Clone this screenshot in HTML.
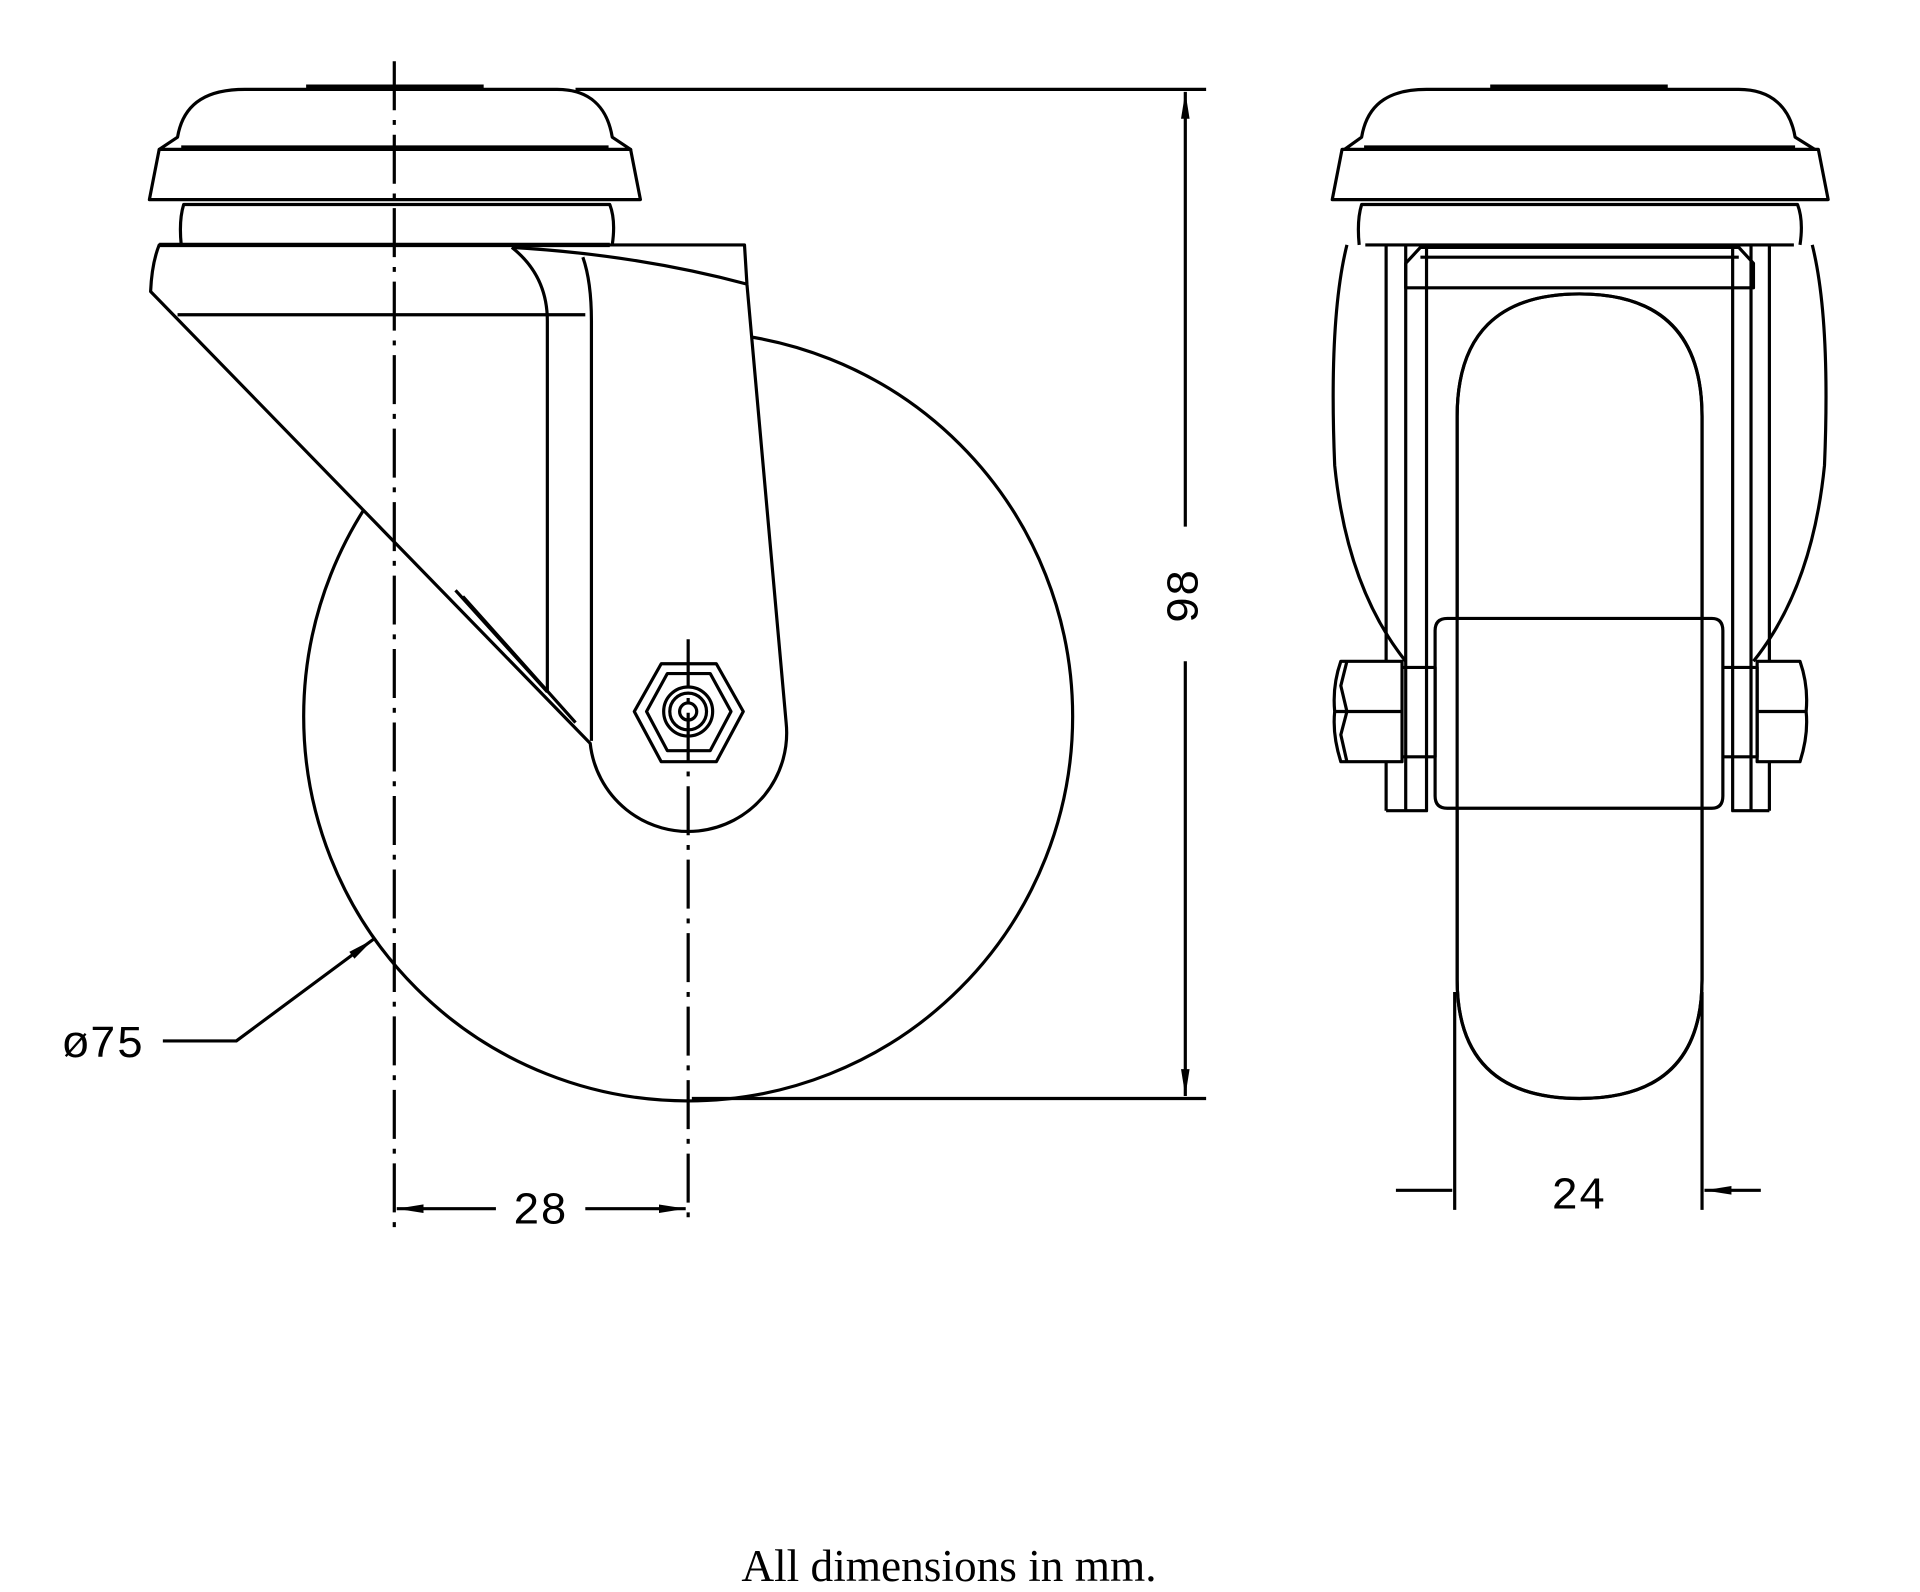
<!DOCTYPE html>
<html><head><meta charset="utf-8"><style>html,body{margin:0;padding:0;background:#fff}svg{display:block}</style></head>
<body>
<svg width="1920" height="1592" viewBox="0 0 1568 1300" preserveAspectRatio="none" xmlns="http://www.w3.org/2000/svg" fill="none" stroke="#000" stroke-width="2.6" stroke-linejoin="round">
<defs>
<marker id="b" markerWidth="22" markerHeight="10" refX="22" refY="5" orient="auto-start-reverse" markerUnits="userSpaceOnUse" viewBox="0 0 22 10"><path d="M0,1.5 L22,5 L0,8.5z" fill="#000" stroke="none"/></marker>
</defs>
<!-- LEFT VIEW -->
<circle cx="562" cy="585" r="314"/>
<path d="M130,200 L608,200 L610,232 L642,590 A80,80 0 0 1 482,607 L123,238 Q124,215 130,200Z" fill="#fff"/>
<path d="M418,202 Q520,208 610,232"/>
<path d="M145,257 L478,257"/>
<path d="M418,202 Q447,225 447,262 L447,565"/>
<path d="M476,210 Q483,230 483,262 L483,605"/>
<path d="M372,482 L447,565 M378,487 L470,590"/>
<path d="M148,200 Q146,180 150,167 L498,167 Q503,180 500,200"/>
<path d="M122,163 L130,122 L515,122 L523,163 Z" fill="#fff"/>
<path d="M145,112 C150,82 172,73 200,73 L455,73 C482,73 496,88 500,112 L515,122 L130,122 Z" fill="#fff"/>
<path d="M148,120 L497,120"/>
<path d="M250,71 L395,71" stroke-width="4"/>
<path d="M130,200 L498,200" stroke-width="3.5"/>
<path d="M518,581 L540,542 L585,542 L607,581 L585,622 L540,622Z" fill="#fff"/>
<path d="M528,581 L545,550 L580,550 L597,581 L580,613 L545,613Z"/>
<circle cx="562" cy="581" r="20"/><circle cx="562" cy="581" r="15"/><circle cx="562" cy="581" r="7"/>
<path d="M322,50 L322,1002" stroke-dasharray="40,8,4,8"/>
<path d="M562,522 L562,1002" stroke-dasharray="40,8,4,8"/>
<path d="M470,73 L985,73 M565,897 L985,897"/>
<path d="M968,75 L968,430 M968,540 L968,895" marker-start="url(#b)" marker-end="url(#b)"/>
<text x="968" y="487" transform="rotate(-90 968 487)" font-family="Liberation Mono, monospace" font-size="37" fill="#000" stroke="none" text-anchor="middle" dominant-baseline="middle">98</text>
<path d="M324,987 L405,987 M478,987 L560,987" marker-start="url(#b)" marker-end="url(#b)"/>
<text x="441" y="999" font-family="Liberation Mono, monospace" font-size="37" fill="#000" stroke="none" text-anchor="middle">28</text>
<path d="M133,850 L193,850 L305,767" marker-end="url(#b)"/>
<text x="84" y="863" font-family="Liberation Mono, monospace" font-size="37" fill="#000" stroke="none" text-anchor="middle">ø75</text>
<!-- RIGHT VIEW -->
<path d="M1100,200 Q1085,260 1090,380 Q1100,480 1148,540 M1480,200 Q1495,260 1490,380 Q1480,480 1432,540"/>
<path d="M1115,200 L1465,200"/>
<path d="M1190,340 Q1190,240 1290,240 Q1390,240 1390,340 L1390,800 Q1390,897 1290,897 Q1190,897 1190,800Z" fill="#fff"/>
<path d="M1182,505 L1398,505 Q1407,505 1407,515 L1407,650 Q1407,660 1398,660 L1182,660 Q1172,660 1172,650 L1172,515 Q1172,505 1182,505Z" fill="#fff"/>
<path d="M1190,340 Q1190,240 1290,240 Q1390,240 1390,340 L1390,800 Q1390,897 1290,897 Q1190,897 1190,800Z"/>
<path d="M1132,200 L1132,662 M1148,200 L1148,662 M1132,662 L1165,662 L1165,200 M1430,200 L1430,662 M1445,200 L1445,662 M1415,200 L1415,662 L1445,662"/>
<path d="M1148,215 L1160,202 L1420,202 L1432,215 L1432,235 L1148,235Z"/>
<path d="M1160,210 L1420,210"/>
<path d="M1095,540 L1145,540 L1145,622 L1095,622 Q1088,600 1090,581 Q1088,560 1095,540Z M1090,581 L1145,581 M1100,540 L1095,560 L1100,581 L1095,600 L1100,622" fill="#fff"/>
<path d="M1435,540 L1470,540 Q1477,560 1475,581 Q1477,600 1470,622 L1435,622Z M1435,581 L1475,581" fill="#fff"/>
<path d="M1145,545 L1172,545 L1172,618 L1145,618 M1408,545 L1435,545 L1435,618 L1408,618"/>
<path d="M1110,200 Q1108,180 1112,167 L1468,167 Q1473,180 1470,200"/>
<path d="M1088,163 L1096,122 L1485,122 L1493,163 Z" fill="#fff"/>
<path d="M1112,112 C1117,82 1138,73 1165,73 L1420,73 C1447,73 1462,88 1466,112 L1482,122 L1098,122 Z" fill="#fff"/>
<path d="M1114,120 L1466,120"/>
<path d="M1217,71 L1362,71" stroke-width="4"/>
<path d="M1188,810 L1188,988 M1390,810 L1390,988"/>
<path d="M1140,972 L1186,972 M1438,972 L1392,972" marker-end="url(#b)"/>
<text x="1289" y="987" font-family="Liberation Mono, monospace" font-size="37" fill="#000" stroke="none" text-anchor="middle">24</text>
<text x="775" y="1291" font-family="Liberation Serif, serif" font-size="37" fill="#000" stroke="none" text-anchor="middle">All dimensions in mm.</text>
</svg>
</body></html>
